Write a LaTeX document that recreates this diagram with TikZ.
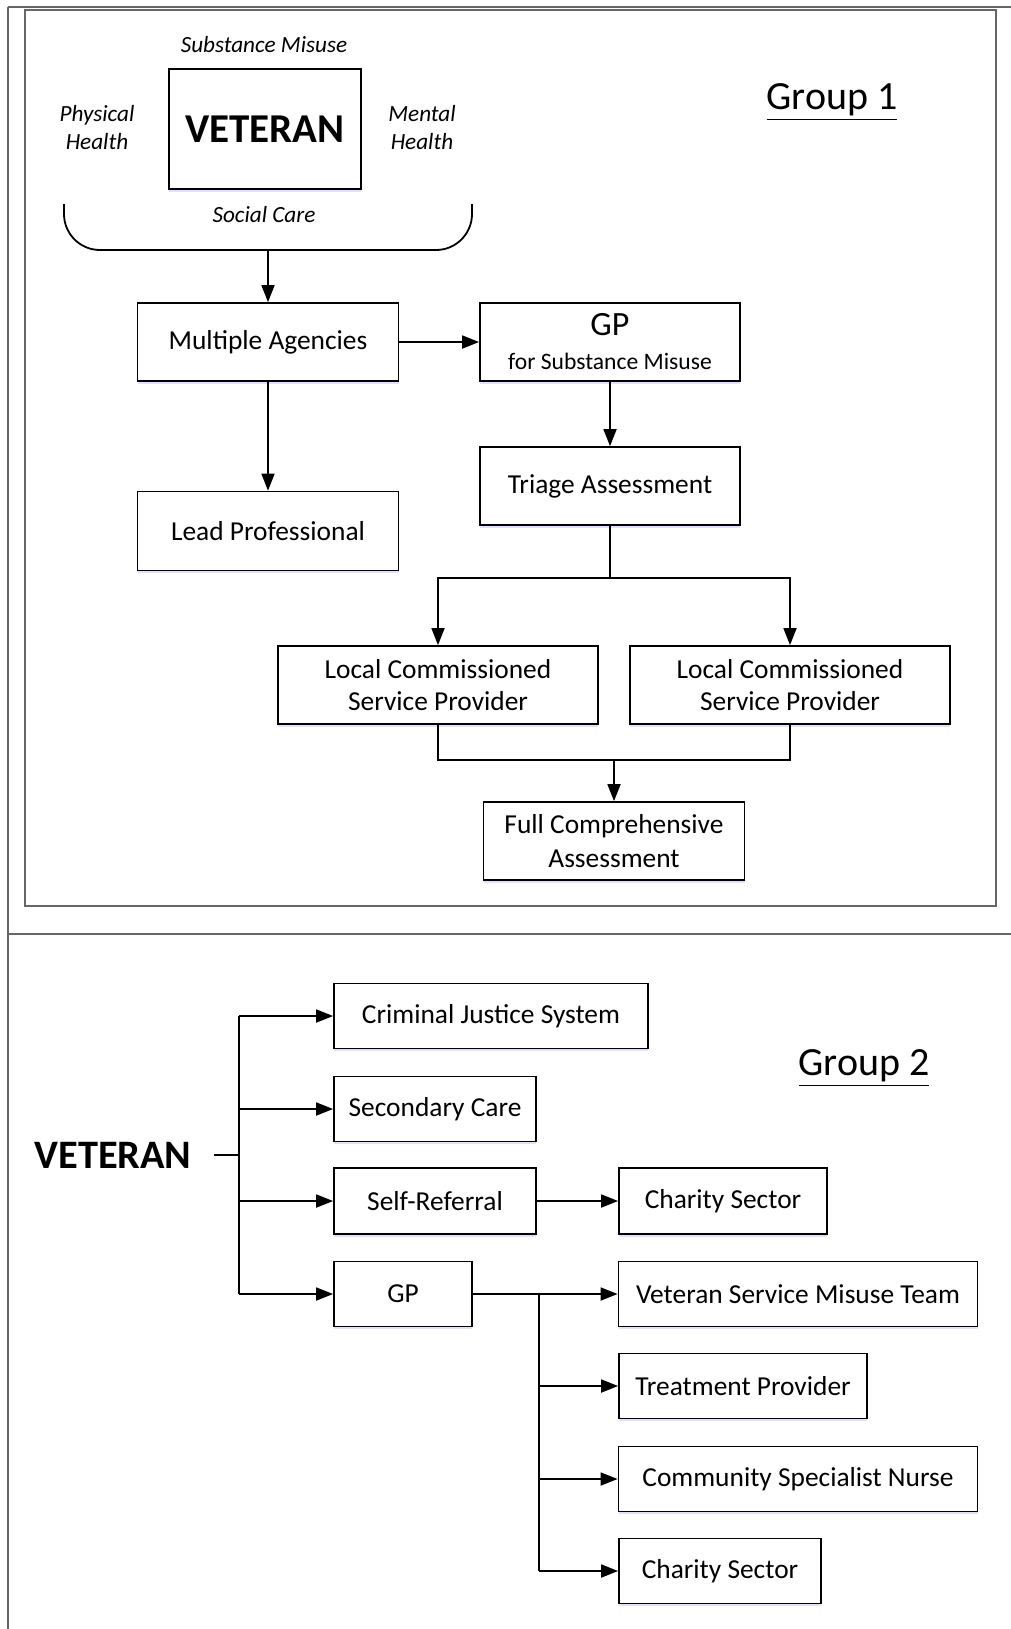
\documentclass[tikz,border=0pt]{standalone}
\usepackage{fontspec}
\setmainfont{Carlito}
\usetikzlibrary{arrows.meta,shadows}
\newcommand{\boxfont}{\fontsize{13.7}{16}\selectfont}
\newcommand{\lblfont}{\fontsize{11.6}{14}\selectfont\itshape}
\begin{document}
\begin{tikzpicture}[x=0.5pt,y=-0.5pt,
  frame/.style={draw=black!60, line width=0.8pt},
  box/.style={draw=black, line width=0.9pt, fill=white, inner sep=0pt, align=center, font=\boxfont,
     drop shadow={shadow xshift=0pt, shadow yshift=-1.3pt, fill=blue!35, opacity=0.35}},
  lbl/.style={inner sep=0pt, align=center, font=\lblfont},
  conn/.style={draw=black, line width=0.9pt},
  arr/.style={conn, -{Triangle[length=8.5pt,width=6.5pt]}}]
\useasboundingbox (0,0) rectangle (1011,1629);
% outer table lines
\draw[frame] (8,7) -- (1011,7);
\draw[frame] (8,7) -- (8,1629);
\draw[frame] (8,934) -- (1011,934);
% group 1 frame
\draw[frame] (25,10) rectangle (996,906);

% ---------------- Group 1 ----------------
\node[box, minimum width=96pt, minimum height=60pt, font=\fontsize{20.5}{24}\selectfont\bfseries] (vet) at (265,129) {VETERAN};
\node[lbl] (sm) at (264,45) {Substance Misuse};
\node[lbl] (ph) at (97,128) {Physical\\Health};
\node[lbl] (mh) at (422,128) {Mental\\Health};
\node[lbl] (scare) at (264,215) {Social Care};
\draw[conn, rounded corners=18pt] (64,204) -- (64,250) -- (472,250) -- (472,204);
\coordinate (brk) at (268,250);
\node[inner sep=0pt, font=\fontsize{20}{22}\selectfont] (g1) at (832,102) {\underline{Group 1}};

\node[box, minimum width=130.5pt, minimum height=39pt] (ma) at (268,342) {Multiple Agencies};
\node[box, minimum width=130pt, minimum height=39pt] (gp1) at (610,342)
  {{\fontsize{17}{18}\selectfont GP}\\[1pt]{\fontsize{11.8}{13}\selectfont for Substance Misuse}};
\node[box, minimum width=130pt, minimum height=39pt] (triage) at (610,486) {Triage Assessment};
\node[box, minimum width=130.5pt, minimum height=39.5pt] (lead) at (268,531) {Lead Professional};
\node[box, minimum width=160pt, minimum height=39pt] (lcsp1) at (438,685) {Local Commissioned\\Service Provider};
\node[box, minimum width=160pt, minimum height=39pt] (lcsp2) at (790,685) {Local Commissioned\\Service Provider};
\node[box, minimum width=130.5pt, minimum height=39pt, font=\fontsize{13.7}{16.8}\selectfont] (fca) at (614,841) {Full Comprehensive\\Assessment};

\draw[arr] (brk) -- (ma.north);
\draw[arr] (ma.east) -- (gp1.west);
\draw[arr] (ma.south) -- (lead.north);
\draw[arr] (gp1.south) -- (triage.north);
\coordinate (sp) at (610,578);
\draw[conn] (triage.south) -- (sp);
\draw[arr] (sp) -| (lcsp1.north);
\draw[arr] (sp) -| (lcsp2.north);
\coordinate (jn) at (614,760);
\draw[conn] (lcsp1.south) -- (lcsp1.south |- jn) -- (lcsp2.south |- jn) -- (lcsp2.south);
\draw[arr] (jn) -- (fca.north);

% ---------------- Group 2 ----------------
\node[anchor=east, inner xsep=11pt, inner ysep=0pt, font=\fontsize{20.2}{22}\selectfont\bfseries] (vet2) at (214,1155) {VETERAN};
\node[inner sep=0pt, font=\fontsize{20}{22}\selectfont] (g2) at (864,1068) {\underline{Group 2}};

\node[box, minimum width=157pt, minimum height=32.5pt] (cjs) at (491,1016) {Criminal Justice System};
\node[box, minimum width=101pt, minimum height=32.5pt] (sc) at (435,1109) {Secondary Care};
\node[box, minimum width=101pt, minimum height=33pt] (sr) at (435,1201) {Self-Referral};
\node[box, minimum width=104pt, minimum height=33pt] (cs1) at (723,1201) {Charity Sector};
\node[box, minimum width=69pt, minimum height=32.5pt] (gp2) at (403,1294) {GP};
\node[box, minimum width=179.5pt, minimum height=32.5pt] (vsmt) at (798,1294) {Veteran Service Misuse Team};
\node[box, minimum width=124pt, minimum height=32.5pt] (tp) at (743,1386) {Treatment Provider};
\node[box, minimum width=179.5pt, minimum height=32.5pt] (csn) at (798,1479) {Community Specialist Nurse};
\node[box, minimum width=101pt, minimum height=32.5pt] (cs2) at (720,1571) {Charity Sector};

\coordinate (t0) at (239,1155);
\draw[conn] (vet2.east) -- (t0);
\draw[conn] (cjs.west -| t0) -- (gp2.west -| t0);
\draw[arr] (cjs.west -| t0) -- (cjs.west);
\draw[arr] (sc.west -| t0) -- (sc.west);
\draw[arr] (sr.west -| t0) -- (sr.west);
\draw[arr] (gp2.west -| t0) -- (gp2.west);
\draw[arr] (sr.east) -- (cs1.west);

\coordinate (b0) at (539,1294);
\draw[arr] (gp2.east) -- (vsmt.west);
\draw[conn] (b0) -- (cs2.west -| b0);
\draw[arr] (tp.west -| b0) -- (tp.west);
\draw[arr] (csn.west -| b0) -- (csn.west);
\draw[arr] (cs2.west -| b0) -- (cs2.west);
\end{tikzpicture}
\end{document}
